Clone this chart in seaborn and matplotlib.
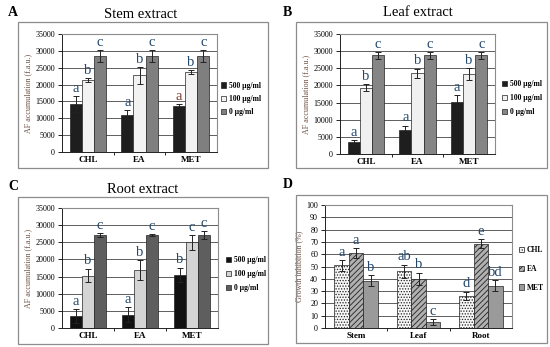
import pandas as pd
import matplotlib
matplotlib.use("Agg")
import matplotlib.pyplot as plt
from matplotlib.patches import Rectangle
import seaborn as sns

extracts = ["CHL", "EA", "MET"]
doses = ["500 µg/ml", "100 µg/ml", "0 µg/ml"]

# AF accumulation (f.a.u.), rows = dose, cols = CHL, EA, MET
stem_mean = [[14200, 11100, 13500], [21400, 22800, 23700], [28400, 28400, 28400]]
stem_err = [[2300, 1300, 700], [600, 2500, 500], [1800, 1800, 1800]]
stem_let = [["a", "a", "a"], ["b", "b", "b"], ["c", "c", "c"]]

leaf_mean = [[3500, 7000, 15300], [19300, 23500, 23300], [28800, 28800, 28800]]
leaf_err = [[500, 1300, 1800], [1000, 1400, 1700], [1000, 1000, 1000]]
leaf_let = [["a", "a", "a"], ["b", "b", "b"], ["c", "c", "c"]]

root_mean = [[3400, 3900, 15500], [15300, 16800, 25000], [27100, 27100, 27100]]
root_err = [[2000, 2100, 2100], [2000, 2900, 2200], [500, 200, 1200]]
root_let = [["a", "a", "b"], ["b", "b", "c"], ["c", "c", "c"]]

# growth inhibition (%), rows = extract, cols = plant part
parts = ["Stem", "Leaf", "Root"]
inh_mean = [[51, 46, 26], [61, 40, 68.5], [38.5, 5, 34.5]]
inh_err = [[4.5, 5.5, 3.5], [4, 5, 3.5], [4.5, 2.5, 4.5]]
inh_let = [["a", "ab", "d"], ["a", "b", "e"], ["b", "c", "bd"]]

W, H = 550, 347
plt.rcParams["font.family"] = ["Liberation Serif", "DejaVu Serif"]
plt.rcParams["hatch.linewidth"] = 0.6
fig = plt.figure(figsize=(5.5, 3.47), dpi=100)
fig.patch.set_facecolor("white")

letter_col = "#23476b"
ylab_col = "#6e5040"


def box(x0, y0, x1, y1):
    fig.patches.append(Rectangle((x0 / W, 1 - y1 / H), (x1 - x0) / W, (y1 - y0) / H,
                                 transform=fig.transFigure, fill=False,
                                 edgecolor="#8c8c8c", lw=0.9))


def panel(rect, cats, groups, mean, err, lets, colors, ymax, ystep, ylabel,
          leg_xy, leg_space, hatches=None, let_cols=None):
    ax = fig.add_axes(rect)
    rows = []
    for g, vals in zip(groups, mean):
        for c, v in zip(cats, vals):
            rows.append({"cat": c, "grp": g, "val": v})
    df = pd.DataFrame(rows)
    sns.barplot(data=df, x="cat", y="val", hue="grp", palette=colors,
                width=0.7, edgecolor="#222222", linewidth=0.5, errorbar=None, ax=ax)
    off = ymax * 0.01
    conts = list(ax.containers)
    for i, cont in enumerate(conts):
        for j, bar in enumerate(cont):
            xc = bar.get_x() + bar.get_width() / 2
            top = mean[i][j] + err[i][j]
            ax.errorbar(xc, mean[i][j], yerr=err[i][j], color="#222222",
                        lw=0.7, capsize=2, capthick=0.7)
            col = letter_col if let_cols is None else let_cols[i][j]
            ax.text(xc, top + off, lets[i][j], ha="center", va="bottom",
                    fontsize=10.5, color=col)
            if hatches is not None and hatches[i]:
                bar.set_hatch(hatches[i])
    ax.set_ylim(0, ymax)
    ax.set_yticks(range(0, ymax + 1, ystep))
    ax.yaxis.grid(True, color="#444444", lw=0.6)
    ax.set_axisbelow(True)
    ax.set_xlabel("")
    ax.set_ylabel(ylabel, fontsize=5.8, color=ylab_col, labelpad=2)
    ax.tick_params(axis="y", labelsize=5.8, length=3, width=0.6, pad=2)
    ax.tick_params(axis="x", labelsize=6.5, length=0, pad=3)
    for t in ax.get_xticklabels():
        t.set_fontweight("bold")
    ax.set_xticks([0.5, 1.5], minor=True)
    ax.tick_params(axis="x", which="minor", length=2, width=0.6)
    ax.set_xlim(-0.5, len(cats) - 0.5)
    for s in ["left", "bottom"]:
        ax.spines[s].set_color("#222222")
        ax.spines[s].set_linewidth(0.7)
    for s in ["top", "right"]:
        ax.spines[s].set_color("#8c8c8c")
        ax.spines[s].set_linewidth(0.8)
    handles, labels = ax.get_legend_handles_labels()
    if hatches is not None:
        for h, hp in zip(handles, hatches):
            if hp:
                h.set_hatch(hp)
    ax.legend(handles, labels, loc="center left",
              bbox_to_anchor=(leg_xy[0] / W, 1 - leg_xy[1] / H),
              bbox_transform=fig.transFigure, frameon=False,
              prop={"size": 5.5, "weight": "bold"}, handlelength=0.7,
              handleheight=0.7, handletextpad=0.3, labelspacing=leg_space,
              borderaxespad=0, borderpad=0)
    return ax


ylab = "AF accumulation (f.a.u.)"

# A
box(18, 22, 268, 168)
panel([62 / W, 1 - 152 / H, 155 / W, 118 / H], extracts, doses, stem_mean, stem_err,
      stem_let, ["#1e1e1e", "#f2f2f2", "#7f7f7f"], 35000, 5000, ylab,
      (221, 99), 0.7,
      let_cols=[[letter_col, letter_col, "#7b3a2a"], [letter_col] * 3, [letter_col] * 3])
fig.text(8 / W, 1 - 13 / H, "A", fontsize=10, fontweight="bold", va="center")
fig.text(141 / W, 1 - 14 / H, "Stem extract", fontsize=10.5, ha="center", va="center")

# B
box(296, 22, 547, 168)
panel([340 / W, 1 - 154 / H, 155 / W, 120 / H], extracts, doses, leaf_mean, leaf_err,
      leaf_let, ["#1e1e1e", "#f0f0f0", "#858585"], 35000, 5000, ylab,
      (502, 98), 0.8)
fig.text(283 / W, 1 - 12 / H, "B", fontsize=10, fontweight="bold", va="center")
fig.text(418 / W, 1 - 13 / H, "Leaf extract", fontsize=10.5, ha="center", va="center")

# C
box(18, 197, 268, 344)
panel([62 / W, 1 - 328 / H, 156 / W, 120 / H], extracts, doses, root_mean, root_err,
      root_let, ["#111111", "#d4d4d4", "#5e5e5e"], 35000, 5000, ylab,
      (226, 274), 0.8)
fig.text(8 / W, 1 - 187 / H, "C", fontsize=10, fontweight="bold", va="center")
fig.text(143 / W, 1 - 190 / H, "Root extract", fontsize=10.5, ha="center", va="center")

# D
box(296, 195, 547, 343)
panel([325 / W, 1 - 328 / H, 187 / W, 123 / H], parts, extracts, inh_mean, inh_err,
      inh_let, ["#f7f7f7", "#b0b0b0", "#9a9a9a"], 100, 10,
      "Growth inhibition (%)", (519, 269), 1.4,
      hatches=["......", "//////", None])
fig.text(283 / W, 1 - 185 / H, "D", fontsize=10, fontweight="bold", va="center")

fig.savefig("out.png", dpi=100, facecolor="white")
